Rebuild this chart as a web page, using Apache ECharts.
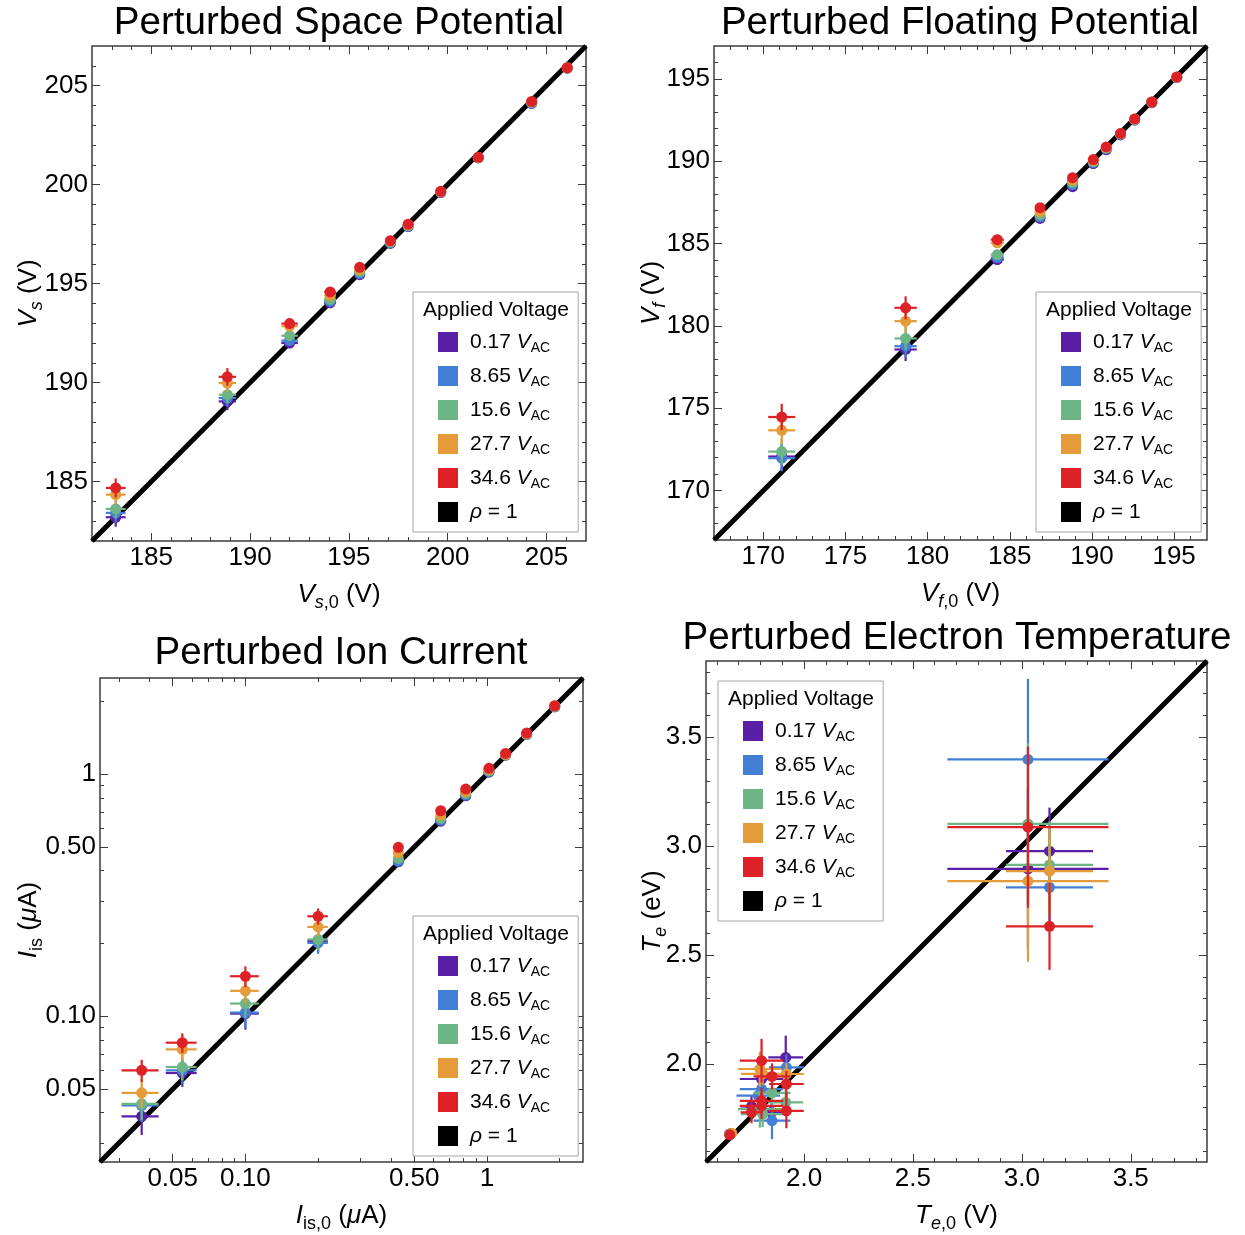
<!DOCTYPE html>
<html>
<head>
<meta charset="utf-8">
<script src="https://cdn.jsdelivr.net/npm/echarts@6/dist/echarts.min.js"></script>
<style>
  html, body { margin: 0; padding: 0; background: #fff; }
  #chart { width: 1245px; height: 1235px; }
</style>
</head>
<body>
<div id="chart"></div>
<script>
// ---- series: applied AC voltage and colours ----
const voltages = ['0.17', '8.65', '15.6', '27.7', '34.6'];
const colors = ['#5a1fa6', '#437fd4', '#6db585', '#e49b3a', '#dc2226'];
const rhoName = 'ρ = 1';
const legendHeader = 'Applied Voltage';

// ---- Perturbed space potential (V) ----
const spaceRange = [182, 207];
const spaceMajor = [185, 190, 195, 200, 205];
const spaceX = [183.2, 188.85, 192.0, 194.05, 195.55, 197.1, 198.0, 199.65, 201.55, 204.25, 206.05];
const spaceXErr = [0.5, 0.44, 0.42, 0.3, 0.2, 0.15, 0.15, 0.15, 0.15, 0.15, 0.15];
const spaceYErr = [0.48, 0.44, 0.25, 0.2, 0.15, 0.12, 0.12, 0.12, 0.12, 0.12, 0.12];
const spaceY = [
  [183.2, 189.05, 192.0, 194.03, 195.45, 197.03, 197.88, 199.6, 201.35, 204.1, 205.88],
  [183.42, 189.22, 192.12, 194.1, 195.5, 197.06, 197.9, 199.62, 201.36, 204.12, 205.89],
  [183.62, 189.39, 192.37, 194.2, 195.6, 197.1, 197.93, 199.63, 201.37, 204.15, 205.9],
  [184.34, 189.98, 192.85, 194.4, 195.7, 197.14, 197.97, 199.65, 201.38, 204.18, 205.9],
  [184.68, 190.29, 192.98, 194.58, 195.82, 197.17, 198.0, 199.66, 201.38, 204.2, 205.9]
];

// ---- Perturbed floating potential (V) ----
const floatRange = [167, 197];
const floatMajor = [170, 175, 180, 185, 190, 195];
const floatX = [171.12, 178.66, 184.24, 186.84, 188.82, 190.08, 190.87, 191.74, 192.6, 193.64, 195.16];
const floatXErr = [0.82, 0.68, 0.4, 0.25, 0.2, 0.15, 0.15, 0.15, 0.15, 0.15, 0.15];
const floatYErr = [0.8, 0.7, 0.3, 0.2, 0.15, 0.12, 0.12, 0.12, 0.12, 0.12, 0.12];
const floatY = [
  [172.07, 178.57, 184.03, 186.53, 188.46, 189.86, 190.7, 191.6, 192.5, 193.55, 195.08],
  [171.97, 178.77, 184.15, 186.62, 188.58, 189.92, 190.75, 191.63, 192.52, 193.57, 195.09],
  [172.37, 179.24, 184.33, 186.75, 188.7, 189.98, 190.8, 191.66, 192.54, 193.58, 195.1],
  [173.66, 180.29, 185.05, 186.95, 188.85, 190.04, 190.84, 191.68, 192.56, 193.6, 195.11],
  [174.47, 181.1, 185.24, 187.18, 189.0, 190.1, 190.87, 191.69, 192.57, 193.6, 195.12]
];

// ---- Perturbed ion saturation current (uA), log-log ----
const ionRange = [0.025, 2.5];
const ionMajor = [0.05, 0.1, 0.5, 1];
const ionTickLabels = ['0.05', '0.10', '0.50', '1'];
const ionMinor = [0.03, 0.04, 0.06, 0.07, 0.08, 0.09, 0.2, 0.3, 0.4, 0.6, 0.7, 0.8, 0.9, 2];
const ionX = [0.0372, 0.0548, 0.100, 0.200, 0.430, 0.644, 0.817, 1.02, 1.195, 1.46, 1.91];
const ionXErr = [0.0065, 0.008, 0.0136, 0.0195, 0.012, 0.016, 0.02, 0.025, 0.03, 0.035, 0.045];
const ionYErr = [0.0063, 0.0072, 0.0145, 0.02, 0.012, 0.016, 0.02, 0.025, 0.03, 0.035, 0.045];
const ionY = [
  [0.0386, 0.0583, 0.1026, 0.205, 0.435, 0.64, 0.815, 1.02, 1.2, 1.46, 1.9],
  [0.0428, 0.0598, 0.1036, 0.201, 0.438, 0.647, 0.821, 1.025, 1.2, 1.46, 1.9],
  [0.0435, 0.0617, 0.1129, 0.2077, 0.449, 0.658, 0.834, 1.035, 1.205, 1.465, 1.91],
  [0.0483, 0.073, 0.1274, 0.234, 0.474, 0.679, 0.847, 1.045, 1.21, 1.47, 1.915],
  [0.0598, 0.0778, 0.1464, 0.259, 0.499, 0.707, 0.869, 1.059, 1.22, 1.48, 1.92]
];

// ---- Perturbed electron temperature (eV) ----
const teRange = [1.55, 3.85];
const teMajor = [2.0, 2.5, 3.0, 3.5];
const teX = [
  [1.659, 1.759, 1.805, 1.851, 1.916, 3.028, 3.127],
  [1.659, 1.79, 1.805, 1.853, 1.919, 3.028, 3.127],
  [1.659, 1.797, 1.81, 1.853, 1.916, 3.028, 3.127],
  [1.668, 1.797, 1.81, 1.919, 3.028, 3.127],
  [1.659, 1.759, 1.805, 1.805, 1.805, 1.853, 1.919, 1.919, 3.028, 3.127]
];
const teY = [
  [1.678, 1.805, 1.931, 1.778, 2.030, 2.896, 2.977],
  [1.678, 1.855, 1.885, 1.740, 1.984, 3.398, 2.811],
  [1.678, 1.793, 1.770, 1.867, 1.824, 3.102, 2.914],
  [1.682, 1.977, 1.955, 1.954, 2.839, 2.885],
  [1.675, 1.778, 2.015, 1.831, 1.808, 1.943, 1.908, 1.785, 3.087, 2.632]
];
const teXErr = [
  [0.01, 0.05, 0.1, 0.085, 0.08, 0.37, 0.2],
  [0.01, 0.1, 0.1, 0.085, 0.08, 0.37, 0.2],
  [0.01, 0.1, 0.1, 0.085, 0.08, 0.37, 0.2],
  [0.01, 0.1, 0.1, 0.08, 0.37, 0.2],
  [0.01, 0.05, 0.1, 0.1, 0.1, 0.085, 0.08, 0.08, 0.37, 0.2]
];
const teYErr = [
  [0.01, 0.05, 0.05, 0.06, 0.1, 0.37, 0.2],
  [0.01, 0.05, 0.06, 0.085, 0.06, 0.37, 0.2],
  [0.01, 0.085, 0.06, 0.06, 0.06, 0.37, 0.2],
  [0.01, 0.08, 0.05, 0.05, 0.37, 0.2],
  [0.01, 0.05, 0.1, 0.06, 0.06, 0.06, 0.06, 0.08, 0.37, 0.2]
];

// ---- styling ----
const FONT = '"Liberation Sans", Arial, sans-serif';
const INK = '#000';
const FRAME = '#3c3c3c';

function steps(a, b, step) {
  const out = [];
  for (let v = a; v <= b + 1e-9; v += step) out.push(Math.round(v * 1000) / 1000);
  return out;
}
const log10 = Math.log10;

// [x, y, xlo, xhi, ylo, yhi] rows, optionally mapped (log) first
function rows(xs, ys, exs, eys, f) {
  const m = f || (v => v);
  return xs.map((x, i) => [m(x), m(ys[i]), m(x - exs[i]), m(x + exs[i]), m(ys[i] - eys[i]), m(ys[i] + eys[i])]);
}

function renderErr(params, api) {
  const c = api.coord([api.value(0), api.value(1)]);
  const xl = api.coord([api.value(2), api.value(1)]);
  const xh = api.coord([api.value(3), api.value(1)]);
  const yl = api.coord([api.value(0), api.value(4)]);
  const yh = api.coord([api.value(0), api.value(5)]);
  const color = api.visual('color');
  return {
    type: 'group',
    children: [
      { type: 'line', shape: { x1: xl[0], y1: c[1], x2: xh[0], y2: c[1] }, style: { stroke: color, lineWidth: 2.2 } },
      { type: 'line', shape: { x1: c[0], y1: yl[1], x2: c[0], y2: yh[1] }, style: { stroke: color, lineWidth: 2.2 } },
      { type: 'circle', shape: { cx: c[0], cy: c[1], r: 5.5 }, style: { fill: color } }
    ]
  };
}

const nameRich = {
  i: { fontStyle: 'italic', fontSize: 26, fontFamily: FONT, color: INK },
  r: { fontSize: 26, fontFamily: FONT, color: INK },
  si: { fontStyle: 'italic', fontSize: 18, fontFamily: FONT, color: INK, padding: [16, 0, 0, 0] },
  sr: { fontSize: 18, fontFamily: FONT, color: INK, padding: [16, 0, 0, 0] }
};

function axisSet(dim, grid, range, major, minor, fmt, name, nameGap) {
  const pos = dim === 'x' ? ['bottom', 'top'] : ['left', 'right'];
  const base = { type: 'value', gridIndex: grid, min: range[0], max: range[1],
    axisLine: { show: false, onZero: false }, splitLine: { show: false } };
  const tick = (vals, len) => ({ show: true, inside: true, length: len, customValues: vals,
    lineStyle: { color: FRAME, width: 1 } });
  const main = Object.assign({}, base, {
    position: pos[0], axisTick: tick(major, 8),
    axisLabel: { show: true, customValues: major, formatter: fmt, margin: 4,
      color: INK, fontSize: 26, fontFamily: FONT },
    name: name, nameLocation: 'middle', nameGap: nameGap,
    nameTextStyle: { fontSize: 26, fontFamily: FONT, color: INK, rich: nameRich }
  });
  if (dim === 'y') main.nameMoveOverlap = false;
  return [
    main,
    Object.assign({}, base, { position: pos[0], axisTick: tick(minor, 4), axisLabel: { show: false } }),
    Object.assign({}, base, { position: pos[1], axisTick: tick(major, 8), axisLabel: { show: false } }),
    Object.assign({}, base, { position: pos[1], axisTick: tick(minor, 4), axisLabel: { show: false } })
  ];
}

const grids = [
  { left: 92, top: 46, width: 494, height: 495 },
  { left: 714, top: 46, width: 493, height: 494 },
  { left: 100, top: 678, width: 483, height: 484 },
  { left: 706, top: 661, width: 501, height: 501 }
].map(g => Object.assign(g, { show: true, borderColor: FRAME, borderWidth: 1.5, backgroundColor: 'transparent' }));

const intFmt = v => String(Math.round(v));
const oneDec = v => v.toFixed(1);
const ionFmt = v => {
  const k = ionMajor.findIndex(m => Math.abs(log10(m) - v) < 1e-6);
  return k >= 0 ? ionTickLabels[k] : '';
};

const spaceMinor = steps(183, 206, 1).filter(v => !spaceMajor.includes(v));
const floatMinor = steps(168, 196, 1).filter(v => !floatMajor.includes(v));
const teMinor = steps(1.6, 3.8, 0.1).filter(v => !teMajor.some(m => Math.abs(m - v) < 1e-6));
const ionRangeL = ionRange.map(log10);
const ionMajorL = ionMajor.map(log10);
const ionMinorL = ionMinor.map(log10);

const xAxes = [].concat(
  axisSet('x', 0, spaceRange, spaceMajor, spaceMinor, intFmt, '{i|V}{si|s}{sr|,0}{r| (V)}', 37),
  axisSet('x', 1, floatRange, floatMajor, floatMinor, intFmt, '{i|V}{si|f}{sr|,0}{r| (V)}', 37),
  axisSet('x', 2, ionRangeL, ionMajorL, ionMinorL, ionFmt, '{i|I}{sr|is,0}{r| (}{i|μ}{r|A)}', 37),
  axisSet('x', 3, teRange, teMajor, teMinor, oneDec, '{i|T}{si|e}{sr|,0}{r| (V)}', 37)
);
const yAxes = [].concat(
  axisSet('y', 0, spaceRange, spaceMajor, spaceMinor, intFmt, '{i|V}{si|s}{r| (V)}', 46),
  axisSet('y', 1, floatRange, floatMajor, floatMinor, intFmt, '{i|V}{si|f}{r| (V)}', 45),
  axisSet('y', 2, ionRangeL, ionMajorL, ionMinorL, ionFmt, '{i|I}{sr|is}{r| (}{i|μ}{r|A)}', 54),
  axisSet('y', 3, teRange, teMajor, teMinor, oneDec, '{i|T}{si|e}{r| (eV)}', 36)
);

// per-panel point sets
const panelRows = [
  spaceY.map(ys => rows(spaceX, ys, spaceXErr, spaceYErr)),
  floatY.map(ys => rows(floatX, ys, floatXErr, floatYErr)),
  ionY.map(ys => rows(ionX, ys, ionXErr, ionYErr, log10)),
  teY.map((ys, s) => rows(teX[s], ys, teXErr[s], teYErr[s]))
];
const panelRanges = [spaceRange, floatRange, ionRangeL, teRange];

const series = [];
panelRows.forEach((sets, p) => {
  const r = panelRanges[p];
  series.push({
    name: rhoName, type: 'line', xAxisIndex: 4 * p, yAxisIndex: 4 * p,
    data: [[r[0], r[0]], [r[1], r[1]]], symbol: 'none', silent: true,
    lineStyle: { color: '#000', width: 5 }, itemStyle: { color: '#000' }, z: 1
  });
  sets.forEach((data, s) => {
    series.push({
      name: voltages[s], type: 'custom', xAxisIndex: 4 * p, yAxisIndex: 4 * p,
      data: data, renderItem: renderErr, clip: true, silent: true,
      itemStyle: { color: colors[s] }, z: 2 + s,
      encode: { x: [0, 2, 3], y: [1, 4, 5] }
    });
  });
});

// legend boxes
const legendBoxes = [[413, 292], [1036, 292], [413, 916], [718, 681]];
const legendRich = {
  r: { fontSize: 21, fontFamily: FONT, color: INK, lineHeight: 22 },
  i: { fontSize: 21, fontFamily: FONT, color: INK, fontStyle: 'italic', lineHeight: 22 },
  s: { fontSize: 14, fontFamily: FONT, color: INK, lineHeight: 14, padding: [12, 0, 0, 0] }
};
const legends = legendBoxes.map(([l, t]) => ({
  show: true, orient: 'vertical', left: l, top: t,
  data: voltages.concat([rhoName]), icon: 'rect', itemWidth: 20, itemHeight: 20, itemGap: 8,
  padding: [37, 28, 7, 25], borderColor: '#a6a6a6', borderWidth: 1, backgroundColor: '#fff',
  selectedMode: false,
  formatter: name => name === rhoName ? '{i|ρ}{r| = 1}{s| }' : '{r|' + name + ' }{i|V}{s|AC}',
  textStyle: { fontSize: 21, fontFamily: FONT, color: INK, padding: [0, 0, 0, 7], rich: legendRich }
}));

const titleStyle = { fontSize: 38.6, fontWeight: 'normal', fontFamily: FONT, color: INK };
const titles = [
  { text: 'Perturbed Space Potential', left: 339, top: 4, textAlign: 'center', padding: 0, textStyle: titleStyle },
  { text: 'Perturbed Floating Potential', left: 960, top: 4, textAlign: 'center', padding: 0, textStyle: titleStyle },
  { text: 'Perturbed Ion Current', left: 341, top: 634, textAlign: 'center', padding: 0, textStyle: titleStyle },
  { text: 'Perturbed Electron Temperature', left: 957, top: 619, textAlign: 'center', padding: 0, textStyle: titleStyle }
].concat(legendBoxes.map(([l, t]) => ({
  text: legendHeader, left: l + 10, top: t + 8, padding: 0,
  textStyle: { fontSize: 21, fontWeight: 'normal', fontFamily: FONT, color: INK }, z: 10
})));

const chart = echarts.init(document.getElementById('chart'), null, { renderer: 'canvas' });
chart.setOption({
  animation: false,
  backgroundColor: '#fff',
  title: titles,
  grid: grids,
  xAxis: xAxes,
  yAxis: yAxes,
  legend: legends,
  series: series
});
</script>
</body>
</html>
